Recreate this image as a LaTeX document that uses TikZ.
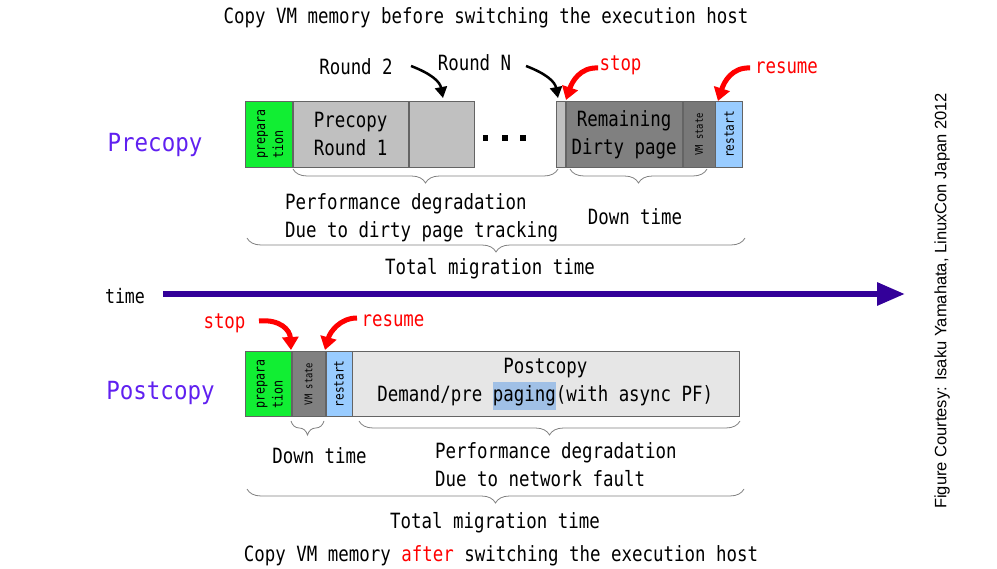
\documentclass[tikz,border=0pt]{standalone}
\usepackage{fontspec}
\setmainfont[FakeStretch=0.83]{DejaVu Sans Mono}
\newfontfamily\modefont[FakeStretch=0.9]{DejaVu Sans Mono}
\newfontfamily\creditfont{Liberation Sans}
\usetikzlibrary{positioning,arrows.meta,decorations.pathreplacing}
\definecolor{prepgreen}{RGB}{17,238,51}
\definecolor{roundgray}{RGB}{192,192,192}
\definecolor{dirtygray}{RGB}{128,128,128}
\definecolor{stategray}{RGB}{120,120,120}
\definecolor{restartblue}{RGB}{153,204,255}
\definecolor{postgray}{RGB}{230,230,230}
\definecolor{pagingblue}{RGB}{160,192,230}
\definecolor{modepurple}{RGB}{96,32,240}
\definecolor{timeindigo}{RGB}{51,0,153}
\definecolor{edgegray}{RGB}{100,100,100}
\tikzset{
  seg/.style={draw=edgegray, line width=0.8pt, inner sep=0pt},
  body/.style={font=\fontsize{21}{28}\selectfont, align=center, inner sep=0pt},
  vtext/.style={rotate=90, inner sep=0pt, align=left},
  mode/.style={font=\modefont\fontsize{25}{27}\selectfont, text=modepurple, inner sep=0pt},
  note/.style={body, text=red},
  blackarrow/.style={line width=2.5pt, -{Triangle[length=11pt,width=12pt]}},
  redarrow/.style={red, line width=5pt, -{Triangle[length=13pt,width=16pt]}},
  span/.style={decorate, decoration={brace, mirror, amplitude=14pt}, draw=gray, line width=0.8pt},
}
\begin{document}
\begin{tikzpicture}[x=1pt,y=-1pt]
\useasboundingbox (0,0) rectangle (997,569);

\node[body] (title) at (486,18) {Copy VM memory before switching the execution host};

% precopy
\node[mode] (precopy) at (155,145) {Precopy};
\node[seg, fill=prepgreen, minimum width=47pt, minimum height=66pt, anchor=north west] (aprep) at (245,101) {};
\node[seg, fill=roundgray, minimum width=115pt, minimum height=66pt, right=0pt of aprep] (around1) {};
\node[seg, fill=roundgray, minimum width=65pt, minimum height=66pt, right=0pt of around1] (around2) {};
\node[seg, fill=roundgray, minimum width=9pt, minimum height=66pt, anchor=north west] (asmall) at (556,101) {};
\node[seg, fill=dirtygray, minimum width=116pt, minimum height=66pt, right=0pt of asmall] (aremain) {};
\node[seg, fill=stategray, minimum width=32pt, minimum height=66pt, right=0pt of aremain] (astate) {};
\node[seg, fill=restartblue, minimum width=27pt, minimum height=66pt, right=0pt of astate] (arestart) {};
\node[body] at (around1) {Precopy\\Round 1};
\node[body] at (aremain) {Remaining\\Dirty page};
\node[vtext, font=\fontsize{14}{18}\selectfont] at ([xshift=1.5pt]aprep) {prepara\\tion};
\node[vtext, font=\fontsize{10.6}{10}\selectfont] at (astate) {VM state};
\node[vtext, font=\fontsize{13.4}{13}\selectfont] at (arestart) {restart};
\foreach \x in {485.5,505,523}
  \fill (\x-2.8,135.2) rectangle +(5.6,5.6);

\node[body] (round2) at (356,67) {Round 2};
\node[body] (roundn) at (474.5,63) {Round N};
\node[note] (astop) at (620.5,65) {stop};
\node[note] (aresume) at (786.5,68) {resume};
\coordinate (r2a) at (411,66);
\coordinate (r2b) at (443,98);
\coordinate (rna) at (526,66);
\coordinate (rnb) at (558,98);
\coordinate (asa) at (598,68);
\coordinate (asb) at (566,100);
\coordinate (ara) at (750,68);
\coordinate (arb) at (718,101);
\draw[blackarrow] (r2a) .. controls (432,74) and (440,82) .. (r2b);
\draw[blackarrow] (rna) .. controls (547,74) and (555,82) .. (rnb);
\draw[redarrow] (asa) .. controls (580,67) and (572,82) .. (asb);
\draw[redarrow] (ara) .. controls (732,67) and (724,82) .. (arb);

\draw[span] (293,169) -- (558,169);
\draw[span] (570,169) -- (707,169);
\draw[span] (247,238) -- (745,238);
\node[body, align=left, anchor=west] (aperf) at (285,217.5) {Performance degradation\\Due to dirty page tracking};
\node[body] (adown) at (635,217) {Down time};
\node[body] (atotal) at (490,269) {Total migration time};

% time axis
\node[body, font=\fontsize{20}{20}\selectfont] (timelbl) at (125,296) {time};
\coordinate (tstart) at (163,294);
\coordinate (tend) at (905,294);
\draw[timeindigo, line width=6pt, -{Triangle[length=28pt,width=22pt]}] (tstart) -- (tend);

% postcopy
\node[mode] (postcopy) at (160.5,393) {Postcopy};
\node[seg, fill=prepgreen, minimum width=46pt, minimum height=65pt, anchor=north west] (bprep) at (245,351) {};
\node[seg, fill=dirtygray, minimum width=33pt, minimum height=65pt, right=0pt of bprep] (bstate) {};
\node[seg, fill=restartblue, minimum width=26pt, minimum height=65pt, right=0pt of bstate] (brestart) {};
\node[seg, fill=postgray, minimum width=387pt, minimum height=65pt, right=0pt of brestart] (bpost) {};
\node[vtext, font=\fontsize{14}{18}\selectfont] at ([xshift=1.5pt]bprep) {prepara\\tion};
\node[vtext, font=\fontsize{10.6}{10}\selectfont] at (bstate) {VM state};
\node[vtext, font=\fontsize{13.4}{13}\selectfont] at (brestart) {restart};
\node[body] at ([xshift=-1pt]bpost) {Postcopy\\Demand/pre {\setlength{\fboxsep}{0pt}\colorbox{pagingblue}{\strut paging}}(with async PF)};

\node[note] (bstop) at (224.5,323) {stop};
\node[note] (bresume) at (393,321) {resume};
\coordinate (bsa) at (259,321);
\coordinate (bsb) at (291,350);
\coordinate (bra) at (357,318);
\coordinate (brb) at (325,350);
\draw[redarrow] (bsa) .. controls (280,319) and (290,330) .. (bsb);
\draw[redarrow] (bra) .. controls (340,318) and (330,332) .. (brb);

\draw[span] (291,421) -- (324,421);
\draw[span] (359,421) -- (740,421);
\draw[span] (247,489) -- (744,489);
\node[body] (bdown) at (319.5,456) {Down time};
\node[body, align=left, anchor=west] (bperf) at (435,464.5) {Performance degradation\\Due to network fault};
\node[body] (btotal) at (495,523) {Total migration time};
\node[body] (footer) at (501,556) {Copy VM memory \textcolor{red}{after} switching the execution host};

\node[rotate=90, inner sep=0pt, font=\creditfont\fontsize{16.5}{18}\selectfont] (credit) at (942,301) {Figure Courtesy: Isaku Yamahata, LinuxCon Japan 2012};
\end{tikzpicture}
\end{document}
